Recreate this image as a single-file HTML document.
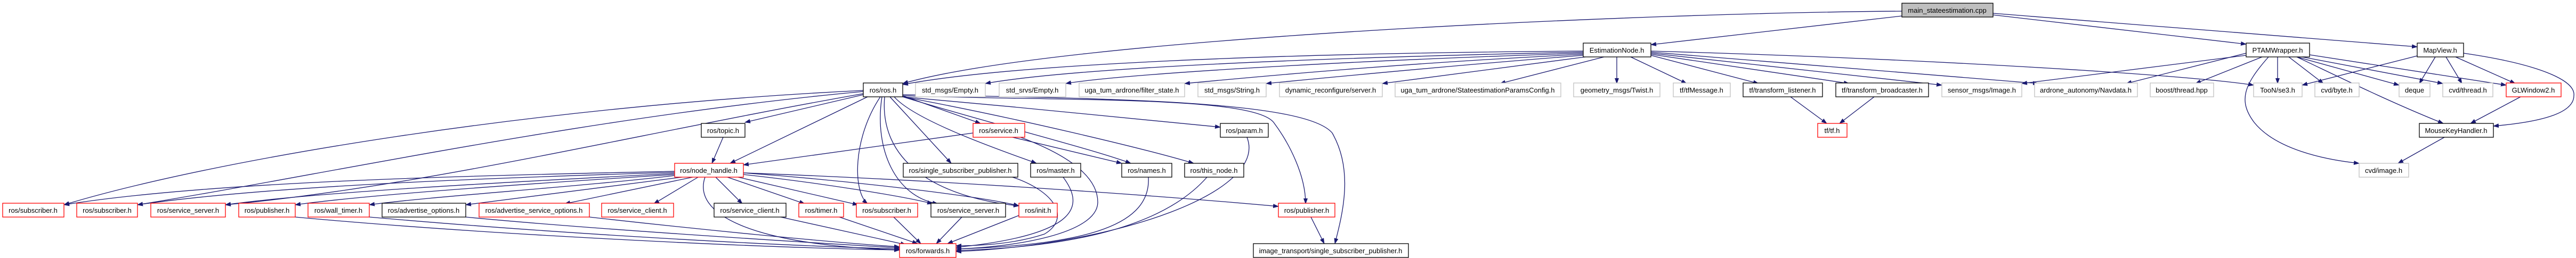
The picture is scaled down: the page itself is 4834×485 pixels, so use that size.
<!DOCTYPE html>
<html><head><meta charset="utf-8"><style>
html,body{margin:0;padding:0;background:#fff;}
svg{display:block;}
text{font-family:"Liberation Sans",sans-serif;font-size:13px;fill:#000;text-anchor:middle;}
.e{fill:none;stroke:#191970;stroke-width:1.3;marker-end:url(#a);}
.b rect{fill:#fff;stroke:#000;stroke-width:1.3;}
.r rect{fill:#fff;stroke:#ff0000;stroke-width:1.3;}
.g rect{fill:#fff;stroke:#bfbfbf;stroke-width:1.3;}
</style></head><body>
<svg width="4834" height="485" viewBox="0 0 4834 485" xmlns="http://www.w3.org/2000/svg">
<defs><marker id="a" markerWidth="11" markerHeight="8" refX="10" refY="4" orient="auto" markerUnits="userSpaceOnUse"><path d="M0,0 L11,4 L0,8z" fill="#191970"/></marker></defs>
<rect width="4834" height="485" fill="#fff"/>
<g>
<path class="e" d="M3569,21 C3100,24 2000,70 1694,157"/>
<path class="e" d="M3569,30 L3098,84"/>
<path class="e" d="M3740,28 L4215,83"/>
<path class="e" d="M3740,25 L4536,88"/>
<path class="e" d="M2971,96 C2400,100 1900,120 1694,159"/>
<path class="e" d="M2971,98 C2400,110 2000,130 1849,157"/>
<path class="e" d="M2971,100 C2500,115 2100,140 2000,157"/>
<path class="e" d="M2971,102 C2600,120 2300,150 2223,157"/>
<path class="e" d="M2971,104 C2700,125 2450,150 2376,157"/>
<path class="e" d="M2975,107 L2594,157"/>
<path class="e" d="M3010,107 L2815,157"/>
<path class="e" d="M3034,107 L3034,157"/>
<path class="e" d="M3060,107 L3165,157"/>
<path class="e" d="M3098,104 L3300,157"/>
<path class="e" d="M3098,102 L3470,157"/>
<path class="e" d="M3098,100 L3644,160"/>
<path class="e" d="M3098,98 L3825,157"/>
<path class="e" d="M3098,96 C3600,110 4100,140 4229,160"/>
<path class="e" d="M4215,100 L3990,157"/>
<path class="e" d="M4215,104 L3794,157"/>
<path class="e" d="M4245,107 L4120,157"/>
<path class="e" d="M4274,107 L4274,157"/>
<path class="e" d="M4295,107 L4360,157"/>
<path class="e" d="M4310,107 L4502,160"/>
<path class="e" d="M4320,107 L4584,157"/>
<path class="e" d="M4334,103 L4703,160"/>
<path class="e" d="M4310,107 C4380,140 4480,190 4585,232"/>
<path class="e" d="M4257,107 C4210,160 4200,190 4230,230 C4270,280 4360,300 4427,307"/>
<path class="e" d="M4536,105 L4320,160"/>
<path class="e" d="M4570,107 L4540,157"/>
<path class="e" d="M4590,107 L4620,157"/>
<path class="e" d="M4608,107 L4720,157"/>
<path class="e" d="M4623,100 C4760,120 4834,150 4830,180 C4830,215 4760,230 4679,237"/>
<path class="e" d="M4730,182 L4636,232"/>
<path class="e" d="M4587,258 L4500,307"/>
<path class="e" d="M3360,182 L3428,232"/>
<path class="e" d="M3517,182 L3452,232"/>
<path class="e" d="M1620,178 L1398,230"/>
<path class="e" d="M1628,182 L1370,307"/>
<path class="e" d="M1694,180 L1840,232"/>
<path class="e" d="M1694,182 C1900,200 2200,230 2290,239"/>
<path class="e" d="M1670,182 L1785,307"/>
<path class="e" d="M1678,182 C1720,230 1900,290 1945,307"/>
<path class="e" d="M1694,182 C1850,230 2050,280 2122,307"/>
<path class="e" d="M1694,182 C1900,220 2150,280 2240,307"/>
<path class="e" d="M1652,182 C1600,260 1600,360 1628,383"/>
<path class="e" d="M1655,182 C1640,280 1680,370 1760,383"/>
<path class="e" d="M1660,182 C1650,300 1750,370 1912,387"/>
<path class="e" d="M1694,180 C2000,190 2350,180 2390,230 C2420,270 2450,330 2450,383"/>
<path class="e" d="M1694,178 C2100,185 2450,190 2500,250 C2540,320 2520,400 2505,458"/>
<path class="e" d="M1620,170 C1000,200 400,300 120,385"/>
<path class="e" d="M1620,172 C1100,220 600,330 258,385"/>
<path class="e" d="M1620,176 C1200,250 800,350 423,385"/>
<path class="e" d="M1266,322 C900,330 400,340 120,385"/>
<path class="e" d="M1266,324 C900,335 500,350 258,385"/>
<path class="e" d="M1266,326 C1000,340 600,360 423,385"/>
<path class="e" d="M1266,328 C1000,345 700,365 554,385"/>
<path class="e" d="M1266,330 C1100,350 800,370 693,385"/>
<path class="e" d="M1280,333 L874,385"/>
<path class="e" d="M1300,333 L1060,383"/>
<path class="e" d="M1310,333 L1227,383"/>
<path class="e" d="M1343,333 L1393,383"/>
<path class="e" d="M1365,333 L1510,383"/>
<path class="e" d="M1385,333 L1610,385"/>
<path class="e" d="M1395,328 C1550,345 1700,370 1750,383"/>
<path class="e" d="M1395,325 C1600,340 1850,370 1912,387"/>
<path class="e" d="M1395,325 C1800,340 2200,370 2399,388"/>
<path class="e" d="M1323,333 C1300,400 1400,460 1688,470"/>
<path class="e" d="M1357,258 L1336,307"/>
<path class="e" d="M1826,250 L1395,310"/>
<path class="e" d="M1900,258 L2105,307"/>
<path class="e" d="M1915,258 C2000,290 2060,330 2060,380 C2060,440 1900,465 1794,468"/>
<path class="e" d="M554,408 C900,440 1400,465 1688,470"/>
<path class="e" d="M693,408 C1000,435 1400,460 1688,468"/>
<path class="e" d="M874,408 C1100,430 1500,455 1688,466"/>
<path class="e" d="M1106,408 C1300,430 1550,455 1688,464"/>
<path class="e" d="M1465,408 L1700,460"/>
<path class="e" d="M1575,408 L1722,458"/>
<path class="e" d="M1677,408 L1728,458"/>
<path class="e" d="M1805,408 L1757,458"/>
<path class="e" d="M1912,405 L1778,458"/>
<path class="e" d="M1900,333 C1980,360 2010,410 1960,440 C1900,460 1830,462 1794,462"/>
<path class="e" d="M1995,333 C2030,380 2040,440 1794,465"/>
<path class="e" d="M2155,333 C2160,420 2050,460 1794,468"/>
<path class="e" d="M2265,333 C2180,430 2000,465 1794,471"/>
<path class="e" d="M2340,258 C2380,360 2100,460 1794,473"/>
<path class="e" d="M2460,408 L2485,458"/>
</g>
<!-- nodes -->
<g class="b"><rect x="3569" y="6" width="171" height="26" style="fill:#bfbfbf"/><text x="3654" y="24">main_stateestimation.cpp</text></g>
<g class="b"><rect x="2971" y="81" width="127" height="26"/><text x="3034" y="99">EstimationNode.h</text></g>
<g class="b"><rect x="4215" y="81" width="119" height="26"/><text x="4274" y="99">PTAMWrapper.h</text></g>
<g class="b"><rect x="4536" y="81" width="87" height="26"/><text x="4579" y="99">MapView.h</text></g>

<g class="b"><rect x="1620" y="156" width="74" height="26"/><text x="1657" y="174">ros/ros.h</text></g>
<g class="g"><rect x="1718" y="156" width="131" height="26"/><text x="1783" y="174">std_msgs/Empty.h</text></g>
<g class="g"><rect x="1875" y="156" width="125" height="26"/><text x="1937" y="174">std_srvs/Empty.h</text></g>
<g class="g"><rect x="2025" y="156" width="198" height="26"/><text x="2124" y="174">uga_tum_ardrone/filter_state.h</text></g>
<g class="g"><rect x="2248" y="156" width="128" height="26"/><text x="2312" y="174">std_msgs/String.h</text></g>
<g class="g"><rect x="2401" y="156" width="193" height="26"/><text x="2497" y="174">dynamic_reconfigure/server.h</text></g>
<g class="g"><rect x="2618" y="156" width="311" height="26"/><text x="2773" y="174">uga_tum_ardrone/StateestimationParamsConfig.h</text></g>
<g class="g"><rect x="2953" y="156" width="162" height="26"/><text x="3034" y="174">geometry_msgs/Twist.h</text></g>
<g class="g"><rect x="3140" y="156" width="107" height="26"/><text x="3193" y="174">tf/tfMessage.h</text></g>
<g class="b"><rect x="3271" y="156" width="149" height="26"/><text x="3345" y="174">tf/transform_listener.h</text></g>
<g class="b"><rect x="3445" y="156" width="174" height="26"/><text x="3532" y="174">tf/transform_broadcaster.h</text></g>
<g class="g"><rect x="3644" y="156" width="150" height="26"/><text x="3719" y="174">sensor_msgs/Image.h</text></g>
<g class="g"><rect x="3818" y="156" width="193" height="26"/><text x="3914" y="174">ardrone_autonomy/Navdata.h</text></g>
<g class="g"><rect x="4035" y="156" width="119" height="26"/><text x="4094" y="174">boost/thread.hpp</text></g>
<g class="g"><rect x="4229" y="156" width="91" height="26"/><text x="4274" y="174">TooN/se3.h</text></g>
<g class="g"><rect x="4344" y="156" width="83" height="26"/><text x="4385" y="174">cvd/byte.h</text></g>
<g class="g"><rect x="4502" y="156" width="58" height="26"/><text x="4531" y="174">deque</text></g>
<g class="g"><rect x="4584" y="156" width="94" height="26"/><text x="4631" y="174">cvd/thread.h</text></g>
<g class="r"><rect x="4703" y="156" width="103" height="26"/><text x="4754" y="174">GLWindow2.h</text></g>

<g class="b"><rect x="1316" y="232" width="82" height="26"/><text x="1357" y="250">ros/topic.h</text></g>
<g class="r"><rect x="1826" y="232" width="97" height="26"/><text x="1874" y="250">ros/service.h</text></g>
<g class="b"><rect x="2290" y="232" width="90" height="26"/><text x="2335" y="250">ros/param.h</text></g>
<g class="r"><rect x="3411" y="232" width="55" height="26"/><text x="3438" y="250">tf/tf.h</text></g>
<g class="b"><rect x="4540" y="232" width="139" height="26"/><text x="4609" y="250">MouseKeyHandler.h</text></g>

<g class="r"><rect x="1266" y="307" width="129" height="26"/><text x="1330" y="325">ros/node_handle.h</text></g>
<g class="b"><rect x="1695" y="307" width="215" height="26"/><text x="1802" y="325">ros/single_subscriber_publisher.h</text></g>
<g class="b"><rect x="1934" y="307" width="94" height="26"/><text x="1981" y="325">ros/master.h</text></g>
<g class="b"><rect x="2105" y="307" width="94" height="26"/><text x="2152" y="325">ros/names.h</text></g>
<g class="b"><rect x="2223" y="307" width="111" height="26"/><text x="2278" y="325">ros/this_node.h</text></g>
<g class="g"><rect x="4427" y="307" width="93" height="26"/><text x="4473" y="325">cvd/image.h</text></g>

<g class="r"><rect x="5" y="382" width="115" height="26"/><text x="62" y="400">ros/subscriber.h</text></g>
<g class="r"><rect x="144" y="382" width="114" height="26"/><text x="201" y="400">ros/subscriber.h</text></g>
<g class="r"><rect x="283" y="382" width="140" height="26"/><text x="353" y="400">ros/service_server.h</text></g>
<g class="r"><rect x="448" y="382" width="106" height="26"/><text x="501" y="400">ros/publisher.h</text></g>
<g class="r"><rect x="578" y="382" width="115" height="26"/><text x="635" y="400">ros/wall_timer.h</text></g>
<g class="b"><rect x="717" y="382" width="157" height="26"/><text x="795" y="400">ros/advertise_options.h</text></g>
<g class="r"><rect x="899" y="382" width="207" height="26"/><text x="1002" y="400">ros/advertise_service_options.h</text></g>
<g class="r"><rect x="1129" y="382" width="135" height="26"/><text x="1196" y="400">ros/service_client.h</text></g>
<g class="b"><rect x="1340" y="382" width="135" height="26"/><text x="1407" y="400">ros/service_client.h</text></g>
<g class="r"><rect x="1499" y="382" width="84" height="26"/><text x="1541" y="400">ros/timer.h</text></g>
<g class="r"><rect x="1607" y="382" width="115" height="26"/><text x="1664" y="400">ros/subscriber.h</text></g>
<g class="b"><rect x="1747" y="382" width="140" height="26"/><text x="1817" y="400">ros/service_server.h</text></g>
<g class="r"><rect x="1912" y="382" width="72" height="26"/><text x="1948" y="400">ros/init.h</text></g>
<g class="r"><rect x="2399" y="382" width="106" height="26"/><text x="2452" y="400">ros/publisher.h</text></g>

<g class="r"><rect x="1688" y="458" width="106" height="26"/><text x="1741" y="476">ros/forwards.h</text></g>
<g class="b"><rect x="2352" y="458" width="291" height="26"/><text x="2497" y="476">image_transport/single_subscriber_publisher.h</text></g>
</svg>
</body></html>
